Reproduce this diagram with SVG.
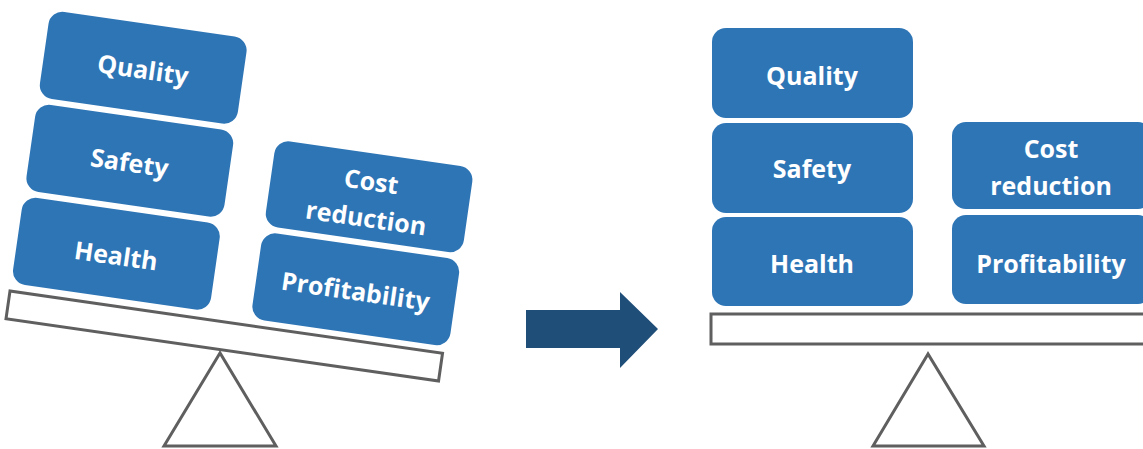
<svg xmlns="http://www.w3.org/2000/svg" width="1143" height="449" viewBox="0 0 1143 449">
  <style>
    .box { fill: #2E75B6; }
    .lbl { fill: #FFFFFF; font-family: "Open Sans", "DejaVu Sans", sans-serif; font-weight: 700; font-size: 25px; text-anchor: middle; }
    .beam { fill: #FFFFFF; stroke: #5F5F5F; stroke-width: 3; }
    .pivot { fill: #FFFFFF; stroke: #5F5F5F; stroke-width: 3; stroke-linejoin: miter; }
  </style>
  <rect width="1143" height="449" fill="#FFFFFF"/>

  <!-- Unbalanced scale: beam and blocks tilted together -->
  <g id="scale-before">
    <polygon class="pivot" points="220,353 164,446 276,446"/>
    <g transform="translate(10,291) rotate(8.2)">
      <rect id="beam-before" class="beam" x="0" y="0" width="437" height="28"/>
      <g id="quality-before">
        <rect class="box" x="0" y="-284" width="200" height="88" rx="14"/>
        <text class="lbl" x="100" y="-229">Quality</text>
      </g>
      <g id="safety-before">
        <rect class="box" x="0" y="-190" width="200" height="88" rx="14"/>
        <text class="lbl" x="100" y="-135">Safety</text>
      </g>
      <g id="health-before">
        <rect class="box" x="0" y="-96" width="200" height="88" rx="14"/>
        <text class="lbl" x="100" y="-41">Health</text>
      </g>
      <g id="cost-before">
        <rect class="box" x="242" y="-188" width="200" height="87" rx="14"/>
        <text class="lbl" x="342" y="-151">Cost</text>
        <text class="lbl" x="342" y="-114">reduction</text>
      </g>
      <g id="profit-before">
        <rect class="box" x="242" y="-95" width="200" height="88" rx="14"/>
        <text class="lbl" x="342" y="-40">Profitability</text>
      </g>
    </g>
  </g>

  <!-- Transition arrow -->
  <g id="connectors">
    <polygon fill="#1F4E79" points="526,310 620,310 620,292 658,329 620,368 620,348 526,348"/>
  </g>

  <!-- Balanced scale -->
  <g id="scale-after">
    <polygon class="pivot" points="928,354 873,446 984,446"/>
    <rect id="beam-after" class="beam" x="711" y="314" width="440" height="30"/>
    <g id="quality-after">
      <rect class="box" x="712" y="28" width="201" height="90" rx="14"/>
      <text class="lbl" x="812" y="85">Quality</text>
    </g>
    <g id="safety-after">
      <rect class="box" x="712" y="123" width="201" height="90" rx="14"/>
      <text class="lbl" x="812" y="178">Safety</text>
    </g>
    <g id="health-after">
      <rect class="box" x="712" y="217" width="201" height="89" rx="14"/>
      <text class="lbl" x="812" y="273">Health</text>
    </g>
    <g id="cost-after">
      <rect class="box" x="952" y="122" width="200" height="87" rx="14"/>
      <text class="lbl" x="1051" y="158">Cost</text>
      <text class="lbl" x="1051" y="195">reduction</text>
    </g>
    <g id="profit-after">
      <rect class="box" x="952" y="215" width="200" height="89" rx="14"/>
      <text class="lbl" x="1051" y="273">Profitability</text>
    </g>
  </g>
</svg>
